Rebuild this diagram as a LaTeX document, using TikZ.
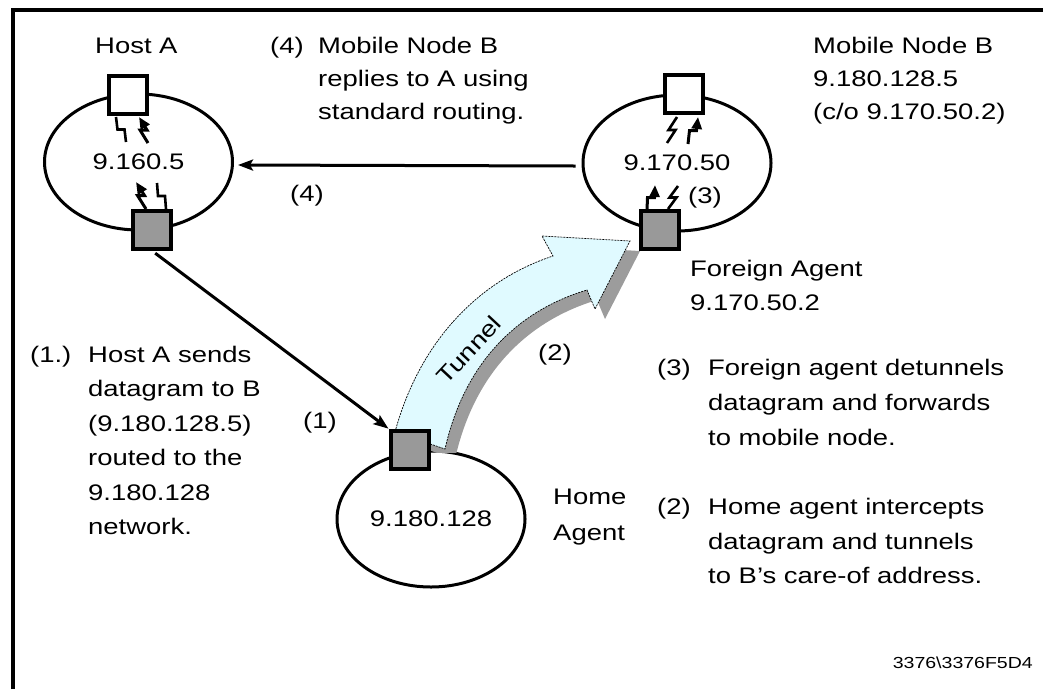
\documentclass[tikz,border=0pt]{standalone}
\usepackage{fontspec}
\setmainfont[FakeStretch=1.22]{Liberation Sans}
\usetikzlibrary{arrows.meta,calc,shapes.geometric}
\definecolor{routergray}{HTML}{999999}
\definecolor{shadowgray}{HTML}{9C9C9C}
\definecolor{tunnelfill}{HTML}{E0FAFF}
\newcommand\zzbolt[3][]{\draw[#1] (#2) -- ($(#2)!0.5!(#3)+(-3.5,0)$) -- ($(#2)!0.5!(#3)+(3.5,0)$) -- (#3);}
\begin{document}
\begin{tikzpicture}[x=1pt,y=-1pt,
  txt/.style={inner sep=0pt, anchor=base west, font=\fontsize{22.5}{27}\selectfont},
  lab/.style={inner sep=0pt, font=\fontsize{22.5}{27}\selectfont},
  net/.style={draw, ellipse, line width=3pt, inner sep=0pt, minimum width=188pt, minimum height=136pt, font=\fontsize{22.5}{27}\selectfont},
  hostbox/.style={draw, line width=3.5pt, fill=white, minimum size=38pt, inner sep=0pt},
  routerbox/.style={hostbox, fill=routergray},
  conn/.style={line width=3pt, -{Stealth[length=15pt,width=11pt,inset=3pt]}},
  thinbolt/.style={line width=2.6pt},
  thickbolt/.style={line width=3pt, -{Triangle[length=12pt,width=10pt]}},
  tunnelpath/.style={line width=0.7pt, dash pattern=on 2pt off 1pt},
]
\useasboundingbox (0,0) rectangle (1043,689);
\draw[line width=4pt] (12.5,689) -- (12.5,10) -- (1043,10);

% networks
\node[net] (netA) at (138.5,162) {9.160.5};
\node[net] (netB) at (677,163) {9.170.50};
\node[net] (netH) at (431,519) {9.180.128};

% tunnel arrow with shadow
\begin{scope}
\clip (0,0) rectangle (1043,452);
\fill[shadowgray, shift={(10,10)}] (395,432) .. controls (420,340) and (480,280) .. (553,256) -- (542,236) -- (630,241) -- (595,309) -- (587,290) .. controls (520,310) and (465,360) .. (445,449) -- cycle;
\end{scope}
\draw[tunnelpath, fill=tunnelfill] (395,432) .. controls (420,340) and (480,280) .. (553,256) -- (542,236) -- (630,241) -- (595,309) -- (587,290) .. controls (520,310) and (465,360) .. (445,449) -- cycle;
\node[lab, rotate=47] (tunlbl) at (469,350) {Tunnel};

% boxes
\node[hostbox] (hostA) at (128,95) {};
\node[routerbox] (gwA) at (152,230) {};
\node[hostbox] (mnB) at (684,94) {};
\node[routerbox] (fa) at (660,230) {};
\node[routerbox] (ha) at (410,450) {};

% bolts
\zzbolt[thinbolt]{116,117}{126,142}
\zzbolt[thickbolt]{148,143}{139,117}
\zzbolt[thickbolt]{146,209}{136,182}
\zzbolt[thinbolt]{157,183}{166,209}
\zzbolt[thinbolt]{677,117}{667,143}
\zzbolt[thickbolt]{688,144}{698,117}
\zzbolt[thickbolt]{647,210}{655,185}
\zzbolt[thinbolt]{678,186}{668,209}

% connectors
\draw[conn] ($(netB.west)+(-6,3)$) -- ($(netA.east)+(4,3)$);
\draw[conn, shorten <=4pt, shorten >=1pt] (gwA.south) -- (ha.north west);

% step labels
\node[lab] (l4) at (307,196) {(4)};
\node[lab] (l1) at (320,423) {(1)};
\node[lab] (l2) at (555,355) {(2)};
\node[lab] (l3) at (705,198) {(3)};

% texts
\node[txt] (hostAlbl) at (95,53) {Host A};
\node[txt] (t4n) at (270,53) {(4)};
\node[txt] (t4a) at (318,53) {Mobile Node B};
\node[txt] (t4b) at (318,86) {replies to A using};
\node[txt] (t4c) at (318,119) {standard routing.};
\node[txt] (mba) at (813,53) {Mobile Node B};
\node[txt] (mbb) at (813,86) {9.180.128.5};
\node[txt] (mbc) at (813,119) {(c/o 9.170.50.2)};
\node[txt] (faa) at (690,276) {Foreign Agent};
\node[txt] (fab) at (690,310) {9.170.50.2};
\node[txt] (t1n) at (30,362) {(1.)};
\node[txt] (t1a) at (88,362) {Host A sends};
\node[txt] (t1b) at (88,396.5) {datagram to B};
\node[txt] (t1c) at (88,431) {(9.180.128.5)};
\node[txt] (t1d) at (88,465.5) {routed to the};
\node[txt] (t1e) at (88,500) {9.180.128};
\node[txt] (t1f) at (88,534.5) {network.};
\node[txt] (haa) at (553,504) {Home};
\node[txt] (hab) at (553,540) {Agent};
\node[txt] (t3n) at (657,375) {(3)};
\node[txt] (t3a) at (708,375) {Foreign agent detunnels};
\node[txt] (t3b) at (708,410) {datagram and forwards};
\node[txt] (t3c) at (708,445) {to mobile node.};
\node[txt] (t2n) at (657,514) {(2)};
\node[txt] (t2a) at (708,514) {Home agent intercepts};
\node[txt] (t2b) at (708,549) {datagram and tunnels};
\node[txt] (t2c) at (708,583) {to B's care-of address.};
\node[inner sep=0pt, anchor=base east, font=\fontsize{16}{19}\selectfont] (figid) at (1033,668) {3376\textbackslash 3376F5D4};
\end{tikzpicture}
\end{document}
